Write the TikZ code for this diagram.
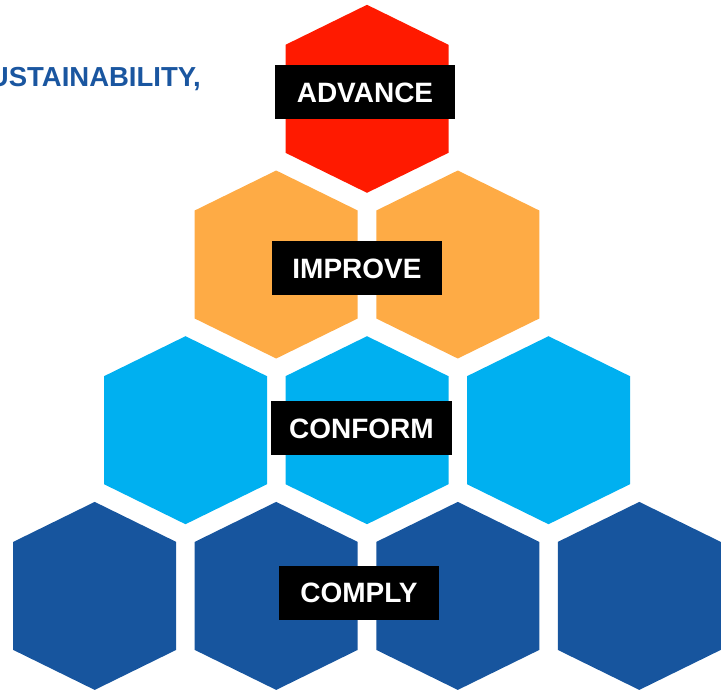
\documentclass[tikz,border=0pt]{standalone}
\usepackage{fontspec}
\setmainfont{Liberation Sans}
\definecolor{hexred}{HTML}{FF1A00}
\definecolor{hexorange}{HTML}{FEAB45}
\definecolor{hexcyan}{HTML}{00B0F0}
\definecolor{hexnavy}{HTML}{17559E}
\definecolor{titleblue}{HTML}{1A56A0}
\tikzset{
  hexa/.pic={\fill[pic actions] (0,-94) -- (81.5,-54) -- (81.5,54) -- (0,94) -- (-81.5,54) -- (-81.5,-54) -- cycle;},
  lbl/.style={fill=black, text=white, font=\fontsize{28}{30}\selectfont\bfseries, inner sep=0pt, minimum height=54pt, text height=20pt, text depth=0pt, align=center},
}
\begin{document}
\begin{tikzpicture}[x=1pt,y=-1pt]
\useasboundingbox (0,0) rectangle (721,691);
\clip (0,0) rectangle (721,691);
% title fragment
\node[anchor=base east, inner sep=0pt, text=titleblue, font=\fontsize{27.5}{30}\selectfont\bfseries] (title) at (201,86) {SUSTAINABILITY,};
% row 1
\pic[fill=hexred] at (367,98.8) {hexa};
% row 2
\pic[fill=hexorange] at (276.2,264.5) {hexa};
\pic[fill=hexorange] at (457.8,264.5) {hexa};
% row 3
\pic[fill=hexcyan] at (185.5,430.2) {hexa};
\pic[fill=hexcyan] at (367,430.2) {hexa};
\pic[fill=hexcyan] at (548.5,430.2) {hexa};
% row 4
\pic[fill=hexnavy] at (94.7,595.9) {hexa};
\pic[fill=hexnavy] at (276.2,595.9) {hexa};
\pic[fill=hexnavy] at (457.8,595.9) {hexa};
\pic[fill=hexnavy] at (639.3,595.9) {hexa};
% labels
\node[lbl, minimum width=180pt] (advance) at (365,92) {ADVANCE};
\node[lbl, minimum width=170pt] (improve) at (357,268) {IMPROVE};
\node[lbl, minimum width=181pt] (conform) at (361.4,428) {CONFORM};
\node[lbl, minimum width=160pt] (comply) at (359,592.6) {COMPLY};
\end{tikzpicture}
\end{document}
